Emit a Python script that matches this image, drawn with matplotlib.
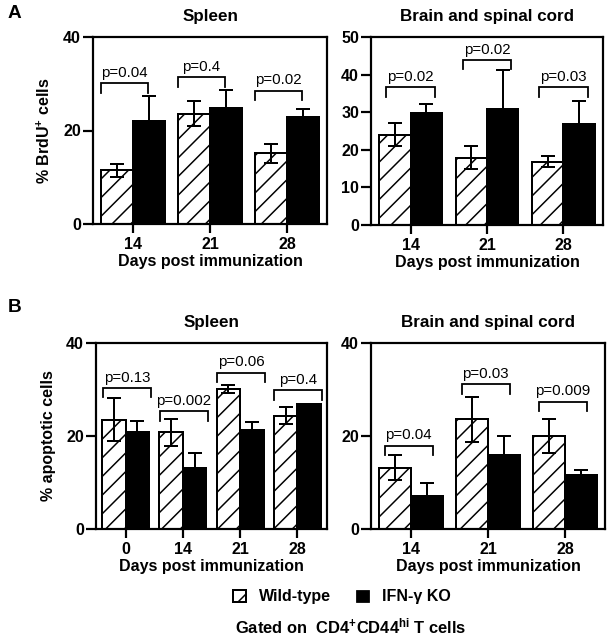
import matplotlib
matplotlib.use("Agg")
import matplotlib.pyplot as plt
from matplotlib.patches import Patch

# low dpi so the "/" hatch spacing comes out near the original's
DPI = 56


def px(v):
    # pixel size -> points at this dpi
    return v * 72.0 / DPI


plt.rcParams["font.family"] = ["Liberation Sans", "DejaVu Sans"]
plt.rcParams["font.weight"] = "bold"
plt.rcParams["axes.titleweight"] = "bold"
plt.rcParams["axes.labelweight"] = "bold"
plt.rcParams["mathtext.fontset"] = "custom"
plt.rcParams["mathtext.rm"] = "Liberation Sans:bold"
plt.rcParams["mathtext.bf"] = "Liberation Sans:bold"
plt.rcParams["mathtext.it"] = "Liberation Sans:bold"
plt.rcParams["hatch.linewidth"] = px(1.5)

# ---- data ----
a_days = ["14", "21", "28"]
a_spleen_wt = [11.5, 23.6, 15.1]
a_spleen_wt_err = [1.4, 2.7, 2.0]
a_spleen_ko = [22.0, 24.9, 22.9]
a_spleen_ko_err = [5.4, 3.8, 1.8]
a_spleen_p = ["p=0.04", "p=0.4", "p=0.02"]
a_spleen_p_y = [30.1, 31.4, 28.5]

a_brain_wt = [24.0, 17.9, 16.8]
a_brain_wt_err = [3.0, 3.0, 1.5]
a_brain_ko = [29.8, 30.9, 26.9]
a_brain_ko_err = [2.3, 10.4, 6.0]
a_brain_p = ["p=0.02", "p=0.02", "p=0.03"]
a_brain_p_y = [36.6, 43.9, 36.6]

b_spleen_days = ["0", "14", "21", "28"]
b_spleen_wt = [23.5, 20.8, 30.1, 24.4]
b_spleen_wt_err = [4.6, 2.9, 0.8, 1.8]
b_spleen_ko = [20.9, 13.2, 21.3, 26.9]
b_spleen_ko_err = [2.4, 3.1, 1.8, 0.0]
b_spleen_p = ["p=0.13", "p=0.002", "p=0.06", "p=0.4"]
b_spleen_p_y = [30.3, 25.3, 33.6, 29.8]

b_days = ["14", "21", "28"]
b_brain_wt = [13.2, 23.6, 20.0]
b_brain_wt_err = [2.7, 4.8, 3.6]
b_brain_ko = [7.1, 15.9, 11.6]
b_brain_ko_err = [2.9, 4.1, 1.1]
b_brain_p = ["p=0.04", "p=0.03", "p=0.009"]
b_brain_p_y = [17.9, 31.1, 27.4]


def draw_panel(rect, days, wt, wt_err, ko, ko_err, pvals, p_y,
               ymax, yticks, title, ylabel, span, leg):
    l, t, r, b = rect
    ax = fig.add_axes([l / 609, 1 - b / 640, (r - l) / 609, (b - t) / 640])
    n = len(days)
    x = list(range(n))
    w = 0.41
    xl = [i - w / 2 for i in x]
    xr = [i + w / 2 for i in x]
    ax.bar(xl, wt, w, color="white", edgecolor="black", hatch="/",
           linewidth=px(2), zorder=2)
    ax.bar(xr, ko, w, color="black", edgecolor="black",
           linewidth=px(2), zorder=2)
    ax.errorbar(xl, wt, yerr=wt_err, fmt="none", ecolor="black",
                elinewidth=px(2), capsize=px(7), capthick=px(2), zorder=3)
    ax.errorbar(xr, ko, yerr=ko_err, fmt="none", ecolor="black",
                elinewidth=px(2), capsize=px(7), capthick=px(2), zorder=1)
    for i in x:
        x1 = i + span[0]
        x2 = i + span[1]
        y = p_y[i]
        ax.plot([x1, x1, x2, x2], [y - leg, y, y, y - leg], color="black",
                lw=px(1.8), solid_joinstyle="miter", clip_on=False)
        ax.text((x1 + x2) / 2, y + ymax * 0.018, pvals[i], ha="center",
                va="bottom", fontsize=px(15), fontweight="normal")
    ax.set_xlim(-0.52, n - 1 + 0.52)
    ax.set_ylim(0, ymax)
    ax.set_xticks(x)
    ax.set_xticklabels(days)
    ax.set_yticks(yticks)
    for s in ax.spines.values():
        s.set_linewidth(px(2.2))
    ax.tick_params(axis="y", length=px(10), width=px(2.2),
                   labelsize=px(16), pad=px(2))
    ax.tick_params(axis="x", length=px(9), width=px(2.2),
                   labelsize=px(16), pad=px(4))
    ax.set_xlabel("Days post immunization", fontsize=px(16), labelpad=px(2))
    if ylabel:
        ax.set_ylabel(ylabel, fontsize=px(16), labelpad=px(10))
    ax.set_title(title, fontsize=px(17), pad=px(16))
    return ax


fig = plt.figure(figsize=(609 / DPI, 640 / DPI), dpi=DPI)

draw_panel((93, 37, 327, 224), a_days, a_spleen_wt, a_spleen_wt_err,
           a_spleen_ko, a_spleen_ko_err, a_spleen_p, a_spleen_p_y,
           40, [0, 20, 40], "Spleen", "% BrdU$^{+}$ cells", (-0.42, 0.2), 2.0)
draw_panel((371, 37, 603, 225), a_days, a_brain_wt, a_brain_wt_err,
           a_brain_ko, a_brain_ko_err, a_brain_p, a_brain_p_y,
           50, [0, 10, 20, 30, 40, 50], "Brain and spinal cord", None,
           (-0.32, 0.32), 2.5)
draw_panel((96, 343, 327, 529), b_spleen_days, b_spleen_wt, b_spleen_wt_err,
           b_spleen_ko, b_spleen_ko_err, b_spleen_p, b_spleen_p_y,
           40, [0, 20, 40], "Spleen", "% apoptotic cells", (-0.4, 0.44), 2.0)
draw_panel((371, 343, 605, 529), b_days, b_brain_wt, b_brain_wt_err,
           b_brain_ko, b_brain_ko_err, b_brain_p, b_brain_p_y,
           40, [0, 20, 40], "Brain and spinal cord", None, (-0.34, 0.28), 2.0)

fig.text(8 / 609, 1 - 14 / 640, "A", fontsize=px(19), va="center")
fig.text(8 / 609, 1 - 307 / 640, "B", fontsize=px(19), va="center")

handles = [Patch(facecolor="white", edgecolor="black", hatch="/",
                 linewidth=px(2)),
           Patch(facecolor="black", edgecolor="black")]
fig.legend(handles, ["Wild-type", "IFN-γ KO"], loc="center",
           bbox_to_anchor=(342 / 609, 1 - 597 / 640), ncol=2, frameon=False,
           fontsize=px(16), handlelength=0.8, handleheight=0.8,
           handletextpad=0.8, columnspacing=1.6)
fig.text(351 / 609, 1 - 626 / 640,
         "Gated on  CD4$^{+}$CD44$^{hi}$ T cells", ha="center", va="center",
         fontsize=px(16.5))

fig.savefig("out.png", dpi=DPI)
